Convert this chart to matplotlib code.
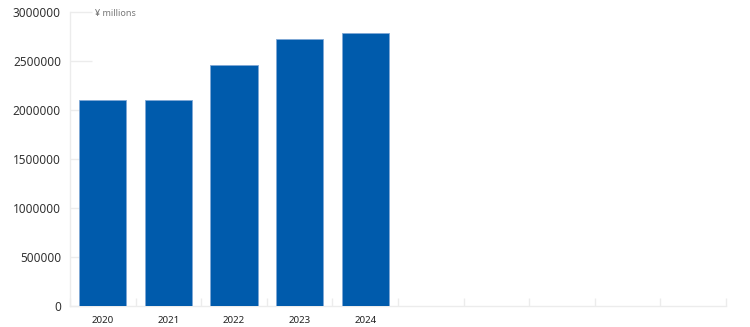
import matplotlib
matplotlib.use("Agg")
import matplotlib.pyplot as plt
import numpy as np

# data
years = ["2020", "2021", "2022", "2023", "2024"]
values = [2104000, 2104000, 2459000, 2720000, 2781000]
n_slots = 10
y_ticks = [0, 500000, 1000000, 1500000, 2000000, 2500000, 3000000]
unit_label = "¥ millions"

plt.rcParams['font.family'] = ['Noto Sans', 'DejaVu Sans']

fig = plt.figure(figsize=(7.5, 3.27), dpi=100)
ax = fig.add_axes([70/750, 1-306/327, 656/750, 294/327])

x = np.arange(len(years))
ax.bar(x, values, width=0.72, color='#005bac', edgecolor='#7fa8d6', linewidth=0.6, zorder=3)

ax.set_xlim(-0.5, n_slots - 0.5)
ax.set_ylim(0, 3000000)

# y axis
ax.set_yticks(y_ticks)
ax.set_yticklabels([str(v) for v in y_ticks])
ax.tick_params(axis='y', direction='in', length=16, width=1, color='#ececec',
               labelsize=8.5, labelcolor='#333333', pad=6.5)

# x axis: labels at centres, tick marks at slot boundaries
ax.set_xticks(x)
ax.set_xticklabels(years, fontsize=7, fontweight='semibold', color='#222222')
ax.set_xticks(np.arange(n_slots + 1) - 0.5, minor=True)
ax.tick_params(axis='x', which='major', length=0, pad=7)
ax.tick_params(axis='x', which='minor', direction='in', length=6, width=1, color='#ececec')

for side in ['top', 'right']:
    ax.spines[side].set_visible(False)
for side in ['left', 'bottom']:
    ax.spines[side].set_color('#ececec')
    ax.spines[side].set_linewidth(1)

ax.text(95/750, 1-13/327, unit_label, transform=fig.transFigure, fontsize=6.5,
        color='#777777', va='center', ha='left')

fig.savefig("out.png", dpi=100)
